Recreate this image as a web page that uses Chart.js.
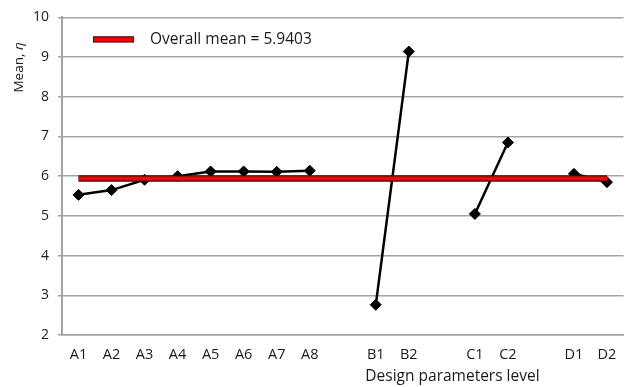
<!DOCTYPE html>
<html>
<head>
<meta charset="utf-8">
<script src="https://cdn.jsdelivr.net/npm/chart.js@4.4.1/dist/chart.umd.min.js"></script>
<style>
  html, body { margin: 0; padding: 0; background: #ffffff; }
  #wrap { width: 630px; height: 387px; }
</style>
</head>
<body>
<div id="wrap"><canvas id="c" width="630" height="387"></canvas></div>
<script>
// Design parameter levels; empty entries separate the factor groups
const levels = ['A1', 'A2', 'A3', 'A4', 'A5', 'A6', 'A7', 'A8', '', 'B1', 'B2', '', 'C1', 'C2', '', 'D1', 'D2'];
// Mean response (eta) at each level
const meanEta = [5.53, 5.65, 5.91, 6.00, 6.12, 6.12, 6.11, 6.14, null, 2.76, 9.14, null, 5.05, 6.85, null, 6.06, 5.85];
// Overall mean, drawn as a reference line across all levels
const overallMean = 5.9403;
const meanLineEnds = ['A1', 'D2'];
// Value axis range
const yMin = 2, yMax = 10, yStep = 1;

const FONT = "'Open Sans', 'Noto Sans', sans-serif";
const TEXT = '#1a1a1a';
const GRID = '#a3a3a3';

const meanLine = meanLineEnds.map(k => ({ x: k, y: overallMean }));

// Legend box placed inside the plot
const legendPlugin = {
  id: 'innerLegend',
  afterDraw(chart) {
    const { ctx, chartArea } = chart;
    const x = chartArea.left + 31, y = chartArea.top + 19;
    ctx.save();
    ctx.fillStyle = '#ff0000';
    ctx.strokeStyle = '#1a1a1a';
    ctx.lineWidth = 1;
    ctx.fillRect(x, y, 41, 6);
    ctx.strokeRect(x + 0.5, y + 0.5, 40, 5);
    ctx.fillStyle = TEXT;
    ctx.font = `15.5px ${FONT}`;
    ctx.textBaseline = 'middle';
    ctx.textAlign = 'left';
    ctx.fillText('Overall mean = ' + overallMean.toFixed(4), x + 57, y + 3.5);
    ctx.restore();
  }
};

// Axis titles (the y title mixes regular and italic text)
const titlesPlugin = {
  id: 'axisTitles',
  afterDraw(chart) {
    const { ctx, chartArea } = chart;
    ctx.save();
    ctx.fillStyle = TEXT;
    ctx.textBaseline = 'middle';
    // x title
    ctx.font = `15.5px ${FONT}`;
    ctx.textAlign = 'center';
    const xc = chartArea.left + 0.6954 * (chartArea.right - chartArea.left);
    ctx.fillText('Design parameters level', xc, chartArea.bottom + 42);
    // y title, rotated
    const partA = 'Mean, ';
    const partB = 'η';
    ctx.font = `13.5px ${FONT}`;
    const wA = ctx.measureText(partA).width;
    ctx.font = `italic 13.5px ${FONT}`;
    const wB = ctx.measureText(partB).width;
    const total = wA + wB;
    ctx.translate(19, chartArea.top + 50);
    ctx.rotate(-Math.PI / 2);
    ctx.textAlign = 'left';
    ctx.font = `13.5px ${FONT}`;
    ctx.fillText(partA, -total / 2, 0);
    ctx.font = `italic 13.5px ${FONT}`;
    ctx.fillText(partB, -total / 2 + wA, 0);
    ctx.restore();
  }
};

new Chart(document.getElementById('c'), {
  type: 'line',
  data: {
    labels: levels,
    datasets: [
      {
        label: 'Overall mean',
        data: meanLine,
        borderColor: '#ff0000',
        borderWidth: 4,
        pointRadius: 0,
        order: 0
      },
      {
        label: 'Overall mean edge',
        data: meanLine,
        borderColor: '#1a1a1a',
        borderWidth: 6.5,
        pointRadius: 0,
        order: 1
      },
      {
        label: 'Mean',
        data: meanEta,
        borderColor: '#000000',
        borderWidth: 2.5,
        spanGaps: false,
        pointStyle: 'rectRot',
        pointRadius: 5.5,
        pointBackgroundColor: '#000000',
        pointBorderColor: '#000000',
        pointBorderWidth: 1,
        order: 2
      }
    ]
  },
  options: {
    responsive: false,
    animation: false,
    devicePixelRatio: 1,
    layout: { padding: { top: 16, right: 0, left: 0, bottom: 0 } },
    plugins: {
      legend: { display: false },
      tooltip: { enabled: false }
    },
    scales: {
      x: {
        type: 'category',
        offset: true,
        grid: { display: false, drawTicks: false },
        border: { display: true, color: GRID, width: 1.5 },
        ticks: {
          color: TEXT,
          font: { family: FONT, size: 14.5 },
          padding: 11,
          autoSkip: false,
          maxRotation: 0
        },
        afterFit(scale) { scale.height = 52; }
      },
      y: {
        min: yMin,
        max: yMax,
        ticks: {
          stepSize: yStep,
          color: TEXT,
          font: { family: FONT, size: 14 },
          padding: 9
        },
        grid: { color: GRID, lineWidth: 1.5, tickLength: 4, tickColor: GRID },
        border: { display: true, color: GRID, width: 2 },
        afterFit(scale) { scale.width = 62; }
      }
    }
  },
  plugins: [legendPlugin, titlesPlugin]
});
</script>
</body>
</html>
